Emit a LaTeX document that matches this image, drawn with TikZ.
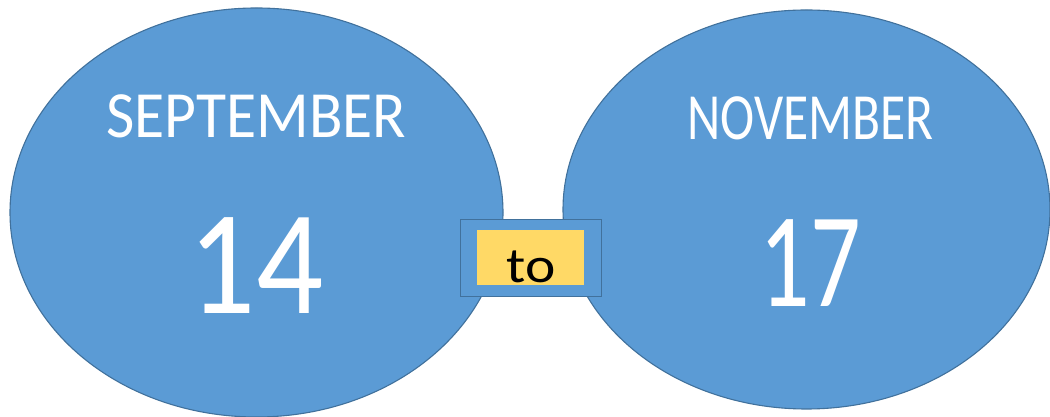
\documentclass[tikz,border=0pt]{standalone}
\usepackage{fontspec}
\setmainfont{Carlito}
\usetikzlibrary{shapes.geometric}
\definecolor{bluefill}{HTML}{5B9BD5}
\definecolor{blueline}{HTML}{41719C}
\definecolor{yellowfill}{HTML}{FFD966}
\tikzset{
  x=1pt, y=1pt,
  oval/.style={ellipse, fill=bluefill, draw=blueline, line width=1.1pt, inner sep=0pt},
  month/.style={text=white, font=\fontsize{66}{66}\selectfont, anchor=base},
  daynum/.style={text=white, anchor=base},
  connbox/.style={rectangle, fill=bluefill, draw=blueline, line width=1.1pt, inner sep=0pt},
  tobox/.style={rectangle, fill=yellowfill, inner sep=0pt},
}
\begin{document}
\begin{tikzpicture}
\useasboundingbox (0,0) rectangle (1050,417);
\node[oval, minimum width=493pt, minimum height=409pt] (left) at (256.5,204.5) {};
\node[oval, minimum width=487pt, minimum height=399pt] (right) at (806.5,207.5) {};
\node[month] (sep) at (256.5,279) {\scalebox{0.934}[1]{SEPTEMBER}};
\node[month] (nov) at (810.5,277) {\scalebox{0.78}[1]{NOVEMBER}};
\node[daynum, font=\fontsize{149}{149}\selectfont] (d14) at (256,103) {\scalebox{0.89}[1]{14}};
\node[daynum, font=\fontsize{135}{135}\selectfont] (d17) at (810.5,110) {\scalebox{0.74}[1]{17}};
\node[connbox, minimum width=141.7pt, minimum height=77.4pt] (box) at (530.9,159) {};
\node[tobox, minimum width=107.3pt, minimum height=55pt] (toback) at (530.4,159.5) {};
\node[anchor=base, font=\fontsize{50}{50}\selectfont] (tolabel) at (531,134) {\scalebox{1.15}[1]{to}};
\end{tikzpicture}
\end{document}
